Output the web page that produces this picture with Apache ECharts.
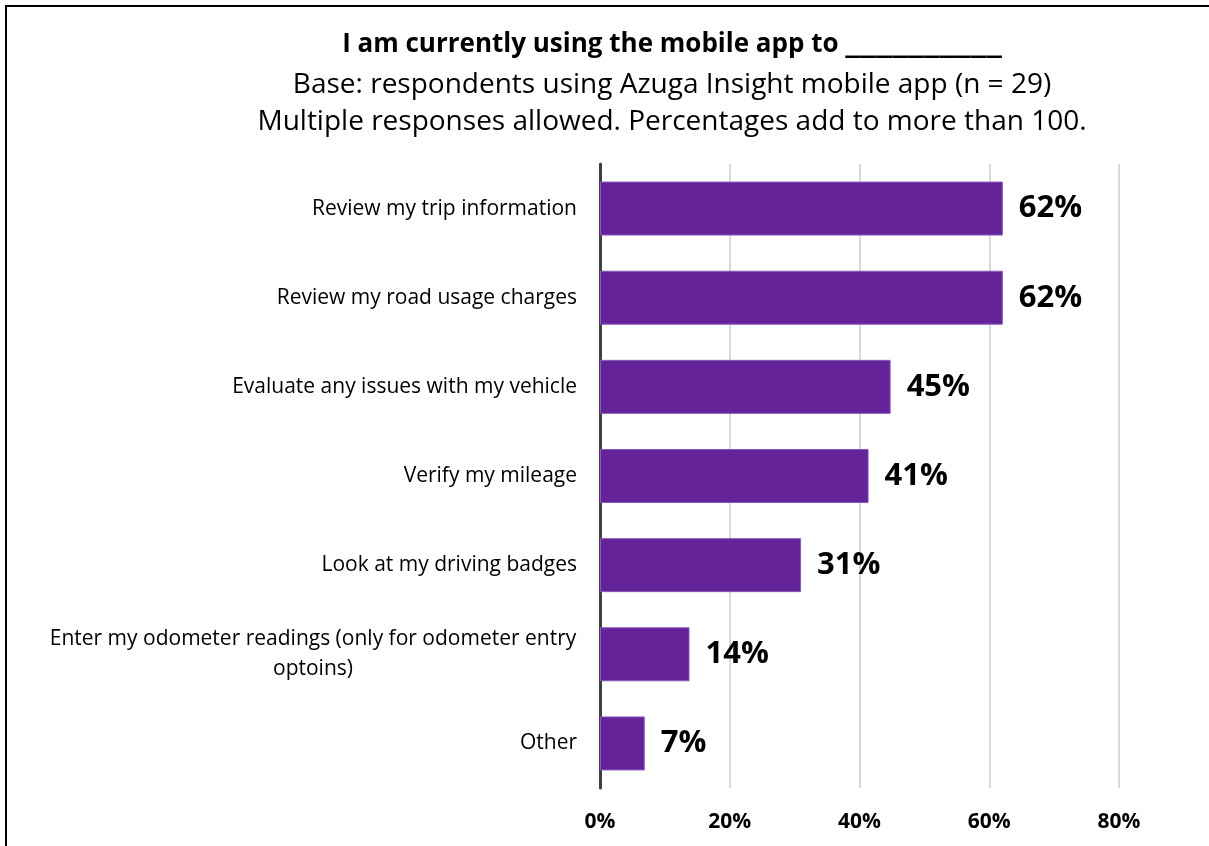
<!DOCTYPE html>
<html>
<head>
<meta charset="utf-8">
<script src="https://cdn.jsdelivr.net/npm/echarts@6/dist/echarts.min.js"></script>
<style>
html,body{margin:0;padding:0;background:#fff;}
#chart{width:1209px;height:846px;}
</style>
</head>
<body>
<div id="chart"></div>
<script>
const titleLead = 'I am currently using the mobile app to ';
const titleBlank = '__________';
const subtitleLines = [
  'Base: respondents using Azuga Insight mobile app (n = 29)',
  'Multiple responses allowed. Percentages add to more than 100.'
];
const categories = [
  'Review my trip information',
  'Review my road usage charges',
  'Evaluate any issues with my vehicle',
  'Verify my mileage',
  'Look at my driving badges',
  'Enter my odometer readings (only for odometer entry\noptoins)',
  'Other'
];
const values = [62.1, 62.1, 44.8, 41.4, 31.0, 13.8, 6.9];
const tickMin = 0, tickMax = 80, tickStep = 20;

const chart = echarts.init(document.getElementById('chart'));
const FONT = '"Open Sans", "Noto Sans", sans-serif';

chart.setOption({
  animation: false,
  backgroundColor: '#fff',
  textStyle: { fontFamily: FONT },
  graphic: [
    { type: 'rect', shape: { x: 6, y: 6, width: 1210, height: 900 },
      style: { fill: 'none', stroke: '#000', lineWidth: 2 }, silent: true },
    { type: 'text', x: 672, y: 45,
      style: { text: '{t|' + titleLead + '}{u|' + titleBlank + '}',
               textAlign: 'center', textVerticalAlign: 'middle',
               rich: {
                 t: { fontFamily: FONT, fontSize: 26, fontWeight: 'bold', fill: '#000', color: '#000' },
                 u: { fontFamily: '"DejaVu Sans Mono", monospace', fontSize: 26, fontWeight: 'bold', fill: '#000', color: '#000' }
               } } },
    { type: 'text', x: 672, y: 85,
      style: { text: subtitleLines[0], fontFamily: FONT, fontSize: 28, fill: '#000',
               textAlign: 'center', textVerticalAlign: 'middle' } },
    { type: 'text', x: 672, y: 122,
      style: { text: subtitleLines[1], fontFamily: FONT, fontSize: 28, fill: '#000',
               textAlign: 'center', textVerticalAlign: 'middle' } }
  ],
  grid: { left: 600, right: 90, top: 164, bottom: 58, containLabel: false },
  xAxis: {
    type: 'value', min: tickMin, max: tickMax, interval: tickStep,
    axisLine: { show: false }, axisTick: { show: false },
    splitLine: { show: true, lineStyle: { color: '#d9d9d9', width: 2 } },
    axisLabel: { formatter: '{value}%', fontFamily: FONT, fontSize: 21, fontWeight: 'bold',
                 color: '#000', margin: 24 }
  },
  yAxis: {
    type: 'category', data: categories, inverse: true,
    axisLine: { show: true, lineStyle: { color: '#404040', width: 3 } },
    axisTick: { show: false },
    axisLabel: {
      margin: 23, color: '#000', fontFamily: FONT, fontSize: 21, align: 'right',
      formatter: v => v.indexOf('\n') >= 0 ? '{c|' + v + '}' : v,
      rich: { c: { width: 528, align: 'center', fontFamily: FONT, fontSize: 21, color: '#000', lineHeight: 30 } }
    }
  },
  series: [{
    type: 'bar', data: values, barWidth: 54,
    itemStyle: { color: '#652399', borderColor: '#8a5bbd', borderWidth: 1 },
    label: { show: true, position: 'right', distance: 16, formatter: p => Math.round(p.value) + '%',
             fontFamily: FONT, fontSize: 31, fontWeight: 'bold', color: '#000' }
  }]
});
</script>
</body>
</html>
